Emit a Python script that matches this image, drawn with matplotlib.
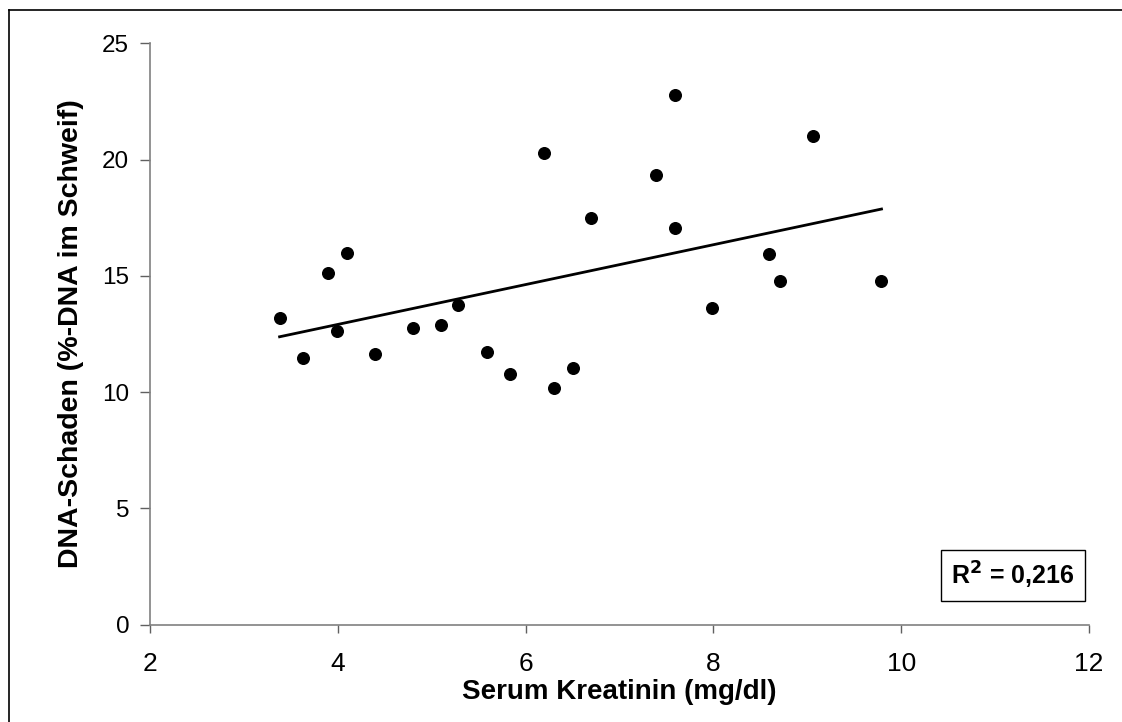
import numpy as np
import matplotlib.pyplot as plt
from matplotlib.lines import Line2D

plt.rcParams['font.family'] = ['Liberation Sans', 'DejaVu Sans']

# serum creatinine (mg/dl) vs. DNA damage (% DNA in tail)
kreatinin = [3.38, 3.63, 3.90, 3.99, 4.10, 4.40, 4.80, 5.10, 5.28, 5.59, 5.83,
             6.20, 6.30, 6.50, 6.70, 7.39, 7.59, 7.59, 7.99, 8.59, 8.71, 9.06, 9.79]
dna_schaden = [13.17, 11.45, 15.12, 12.62, 15.98, 11.63, 12.75, 12.91, 13.76, 11.73, 10.77,
               20.27, 10.17, 11.02, 17.50, 19.34, 22.76, 17.08, 13.63, 15.94, 14.80, 21.02, 14.79]
r2_text = "R$^\\mathbf{2}$ = 0,216"

x = np.array(kreatinin)
y = np.array(dna_schaden)
slope, intercept = np.polyfit(x, y, 1)
xfit = np.array([x.min(), x.max()])

fig = plt.figure(figsize=(11.22, 7.22), dpi=100)
ax = fig.add_axes([0.1337, 0.1348, 0.8369, 0.8051])

ax.scatter(x, y, s=70, color='black', zorder=3)
ax.plot(xfit, slope * xfit + intercept, color='black', lw=2.0)

ax.set_xlim(2, 12)
ax.set_ylim(0, 25)
ax.set_xticks([2, 4, 6, 8, 10, 12])
ax.set_yticks([0, 5, 10, 15, 20, 25])

for side in ('top', 'right'):
    ax.spines[side].set_visible(False)
for side in ('left', 'bottom'):
    ax.spines[side].set_color('#808080')
    ax.spines[side].set_linewidth(1.2)

ax.tick_params(axis='both', color='#606060', width=1.0)
ax.tick_params(axis='y', length=7, pad=8, labelsize=17.5)
ax.tick_params(axis='x', length=6, pad=14, labelsize=19)

ax.set_xlabel('Serum Kreatinin (mg/dl)', fontsize=20, fontweight='bold', labelpad=2)
ax.set_ylabel('DNA-Schaden (%-DNA im Schweif)', fontsize=20.5, fontweight='bold', labelpad=13)

ax.text(0.919, 0.084, r2_text, transform=ax.transAxes, ha='center', va='center',
        fontsize=18, fontweight='bold',
        bbox=dict(boxstyle='square,pad=0.4', facecolor='white', edgecolor='black', lw=1.0))

# frame lines at the top and left edge of the figure
fig.add_artist(Line2D([9 / 1122, 1.0], [1 - 10 / 722, 1 - 10 / 722],
                      transform=fig.transFigure, color='black', lw=1.2))
fig.add_artist(Line2D([9 / 1122, 9 / 1122], [0.0, 1 - 10 / 722],
                      transform=fig.transFigure, color='black', lw=1.2))

fig.savefig('out.png', dpi=100)
